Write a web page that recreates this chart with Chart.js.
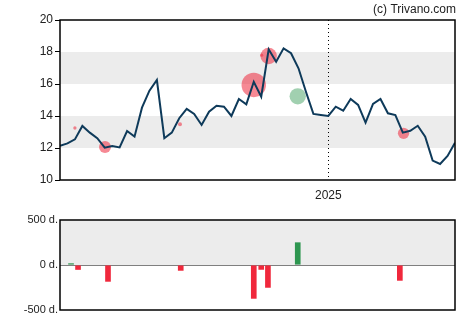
<!DOCTYPE html>
<html>
<head>
<meta charset="utf-8">
<script src="https://cdn.jsdelivr.net/npm/chart.js@4/dist/chart.umd.min.js"></script>
<style>
    body { margin: 0; background: #fff; }
    .wrap { position: absolute; left: 0; width: 470px; }
    #priceWrap { top: 0; height: 210px; }
    #tradeWrap { top: 200px; height: 125px; }
</style>
</head>
<body>
<div class="wrap" id="priceWrap"><canvas id="priceChart"></canvas></div>
<div class="wrap" id="tradeWrap"><canvas id="tradeChart"></canvas></div>
<script>
// weekly closing prices
const prices = [
    12.14, 12.29, 12.54, 13.38, 12.96, 12.61, 12.02, 12.13, 12.04, 13.06,
    12.71, 14.52, 15.58, 16.25, 12.61, 12.96, 13.86, 14.44, 14.13, 13.44,
    14.27, 14.64, 14.58, 14.00, 15.06, 14.73, 16.14, 15.21, 18.17, 17.39,
    18.23, 17.92, 16.98, 15.52, 14.13, 14.06, 14.00, 14.58, 14.33, 15.06,
    14.69, 13.58, 14.75, 15.06, 14.17, 14.06, 12.96, 13.08, 13.39, 12.71,
    11.21, 11.00, 11.50, 12.33
];
const yearStartWeek = 36;
const yearLabel = '2025';
const priceTicks = [10, 12, 14, 16, 18, 20];
const priceBands = [[12, 14], [16, 18]];

// insider trades (thousands), placed on the week axis
const tradeWeek = [1.48, 2.42, 6.44, 16.2, 26.0, 27.0, 27.9, 31.9, 45.6];
const tradeAmount = [15, -50, -182, -60, -371, -49, -249, 248, -171];
const tradeTicks = [-500, 0, 500];

// trade markers drawn on the price line
const markerWeek = [1.1, 2.0, 6.04, 16.1, 26.0, 27.06, 28.0, 31.9, 46.1];
const markerPrice = [12.3, 13.25, 12.06, 13.48, 15.94, 17.8, 17.75, 15.23, 12.92];
const markerAmount = [15, -50, -182, -60, -371, -49, -249, 248, -171];

const RED = '#f0283c';
const GREEN = '#2e9650';
const FONT = '"Liberation Sans", Arial, sans-serif';

const lastWeek = prices.length - 1;

const frame = (bands) => ({
    id: 'frame',
    beforeDatasetsDraw(chart) {
        const { ctx, chartArea: a, scales: { y } } = chart;
        ctx.save();
        ctx.fillStyle = '#ececec';
        bands.forEach(([lo, hi]) => {
            const top = y.getPixelForValue(hi);
            const bottom = y.getPixelForValue(lo);
            ctx.fillRect(a.left, top, a.right - a.left, bottom - top);
        });
        ctx.restore();
    },
    afterDraw(chart) {
        const { ctx, chartArea: a } = chart;
        ctx.save();
        ctx.strokeStyle = '#000';
        ctx.lineWidth = 1.5;
        ctx.strokeRect(a.left, a.top, a.right - a.left, a.bottom - a.top);
        ctx.restore();
    }
});

const yearLine = {
    id: 'yearLine',
    beforeDatasetsDraw(chart) {
        const { ctx, chartArea: a, scales: { x } } = chart;
        const px = Math.round(x.getPixelForValue(yearStartWeek)) + 0.5;
        ctx.save();
        ctx.strokeStyle = '#000';
        ctx.lineWidth = 1;
        ctx.setLineDash([1, 3]);
        ctx.beginPath();
        ctx.moveTo(px, a.top);
        ctx.lineTo(px, a.bottom);
        ctx.stroke();
        ctx.restore();
    }
};

const copyright = {
    id: 'copyright',
    afterDraw(chart) {
        const { ctx } = chart;
        ctx.save();
        ctx.font = '12px ' + FONT;
        ctx.fillStyle = '#222';
        ctx.textAlign = 'right';
        ctx.textBaseline = 'alphabetic';
        ctx.fillText('(c) Trivano.com', 456, 13);
        ctx.restore();
    }
};

const yAxis = (min, max, ticks, fmt, size) => ({
    min: min,
    max: max,
    afterBuildTicks: axis => { axis.ticks = ticks.map(v => ({ value: v })); },
    afterFit: axis => { axis.width = 60; },
    ticks: {
        color: '#222',
        font: { family: FONT, size: size },
        padding: 2,
        callback: fmt
    },
    grid: { drawOnChartArea: false, drawTicks: true, tickLength: 5, color: '#000' },
    border: { display: false }
});

new Chart(document.getElementById('priceChart'), {
    type: 'line',
    data: {
        datasets: [{
            type: 'line',
            data: prices.map((p, i) => ({ x: i, y: p })),
            borderColor: '#0e3a5a',
            borderWidth: 2,
            pointRadius: 0,
            tension: 0,
            order: 0
        }, {
            type: 'bubble',
            data: markerWeek.map((w, i) => ({
                x: w,
                y: markerPrice[i],
                r: Math.max(0.6, Math.abs(markerAmount[i]) * 0.033)
            })),
            backgroundColor: markerAmount.map(v => v < 0 ? 'rgba(238,40,60,0.55)' : 'rgba(46,150,80,0.45)'),
            borderWidth: 0,
            order: 1
        }]
    },
    options: {
        responsive: true,
        maintainAspectRatio: false,
        animation: false,
        layout: { padding: { top: 20, right: 15, left: 0, bottom: 10 } },
        plugins: { legend: { display: false }, tooltip: { enabled: false } },
        scales: {
            x: {
                type: 'linear',
                min: 0,
                max: lastWeek,
                afterBuildTicks: axis => { axis.ticks = [{ value: yearStartWeek }]; },
                afterFit: axis => { axis.height = 20; },
                ticks: {
                    color: '#222',
                    font: { family: FONT, size: 12 },
                    padding: 0,
                    callback: () => yearLabel
                },
                grid: { display: false },
                border: { display: false }
            },
            y: yAxis(10, 20, priceTicks, v => String(v), 12)
        }
    },
    plugins: [frame(priceBands), yearLine, copyright]
});

new Chart(document.getElementById('tradeChart'), {
    type: 'bar',
    data: {
        datasets: [{
            data: tradeWeek.map((w, i) => ({ x: w, y: tradeAmount[i] })),
            backgroundColor: tradeAmount.map(v => v < 0 ? RED : GREEN),
            barThickness: 5
        }]
    },
    options: {
        responsive: true,
        maintainAspectRatio: false,
        animation: false,
        layout: { padding: { top: 20, right: 15, left: 0, bottom: 15 } },
        plugins: { legend: { display: false }, tooltip: { enabled: false } },
        scales: {
            x: { type: 'linear', min: 0, max: lastWeek, offset: false, display: false },
            y: Object.assign(yAxis(-500, 500, tradeTicks, v => v + ' d.', 11), {
                grid: {
                    drawOnChartArea: true,
                    drawTicks: false,
                    color: c => c.tick && c.tick.value === 0 ? '#000' : 'rgba(0,0,0,0)',
                    lineWidth: 1.5
                }
            })
        }
    },
    plugins: [frame([[0, 500]])]
});
</script>
</body>
</html>
